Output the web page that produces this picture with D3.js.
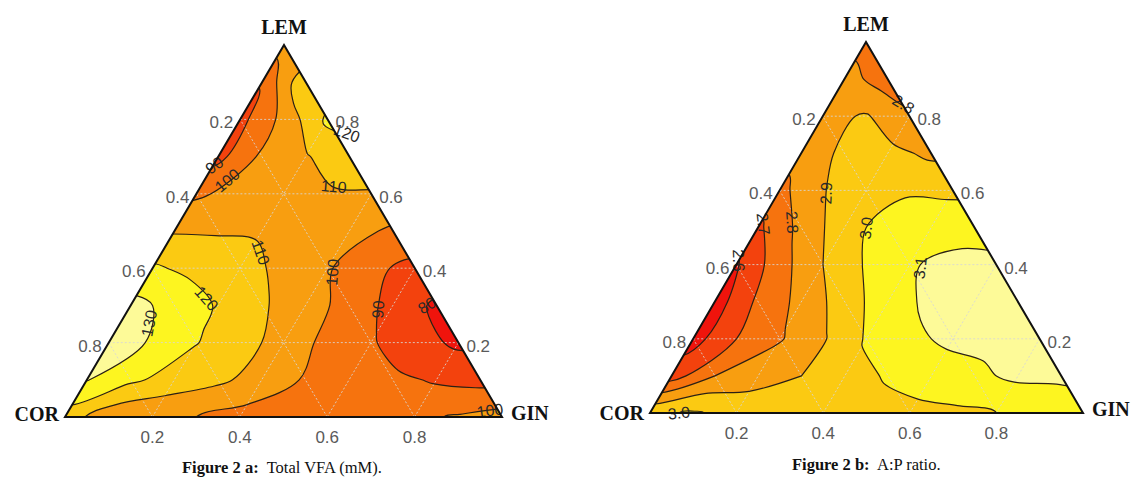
<!DOCTYPE html>
<html>
<head>
<meta charset="utf-8">
<script src="https://cdn.jsdelivr.net/npm/d3@7"></script>
<style>
    body { margin: 0; background: #fff; }
    svg { display: block; }
</style>
</head>
<body>
<svg id="chart" width="1136" height="482"></svg>
<script>
// values on a ternary lattice:
// one row per LEM fraction (0, 0.1 ... 1), columns are GIN fraction (0 ... 1 - LEM)
const vfaRows = [
    [115, 104, 102, 100, 97, 95, 94, 95, 98, 101, 104],
    [130.5, 122, 116, 112, 106, 99, 95, 92, 89, 87],
    [135, 129, 120.5, 113, 107, 97, 91, 84, 78],
    [133, 127, 119, 111, 105, 96, 87, 78],
    [121.5, 117, 113, 108, 101, 93, 86],
    [109, 109, 109, 107, 104, 98],
    [98, 104, 106, 108, 109],
    [87, 102, 109, 118],
    [87, 103, 122],
    [90.5, 119],
    [105]
];
const vfaLevels = [80, 90, 100, 110, 120, 130];
// contour labels: [level, GIN fraction, LEM fraction]
const vfaLabels = [
    [90, 0.01, 0.67], [100, 0.06, 0.63], [120, 0.27, 0.725], [110, 0.3, 0.63],
    [110, 0.24, 0.45], [120, 0.17, 0.33], [130, 0.075, 0.25], [100, 0.41, 0.39],
    [90, 0.56, 0.29], [80, 0.67, 0.3], [100, 0.95, 0.04]
];

const apRows = [
    [2.98, 3.01, 2.97, 2.96, 2.96, 2.96, 2.97, 2.98, 3.0, 3.03, 3.07],
    [2.65, 2.80, 2.85, 2.90, 2.96, 3.01, 3.05, 3.08, 3.12, 3.12],
    [2.56, 2.70, 2.79, 2.89, 3.01, 3.08, 3.12, 3.13, 3.13],
    [2.55, 2.72, 2.83, 2.95, 3.06, 3.12, 3.14, 3.14],
    [2.59, 2.76, 2.90, 3.01, 3.09, 3.13, 3.12],
    [2.68, 2.83, 2.96, 3.04, 3.06, 3.06],
    [2.77, 2.895, 2.96, 2.99, 2.98],
    [2.84, 2.92, 2.93, 2.88],
    [2.87, 2.91, 2.81],
    [2.84, 2.75],
    [2.76]
];
const apLevels = [2.6, 2.7, 2.8, 2.9, 3.0, 3.1];
const apLabels = [
    [2.8, 0.17, 0.817], [2.9, 0.097, 0.593], [2.8, 0.083, 0.515], [2.7, 0.022, 0.512],
    [2.6, 0.01, 0.42], [3.0, 0.235, 0.5], [3.1, 0.4, 0.394], [3.0, 0.01, 0.027]
];

const tickValues = [0.2, 0.4, 0.6, 0.8];
const heatColors = ["#f0140c", "#f3420d", "#f6730e", "#f89e10", "#fbca12", "#fdf520", "#fdfa98"];

const svg = d3.select("#chart");

function drawTernary(cfg) {
    const { cor, gin, lem, rows, levels, labels, fmt } = cfg;

    const xg = d3.scaleLinear().domain([0, 1]).range([0, gin[0] - cor[0]]);
    const xl = d3.scaleLinear().domain([0, 1]).range([0, lem[0] - cor[0]]);
    const yl = d3.scaleLinear().domain([0, 1]).range([cor[1], lem[1]]);
    const toPx = (g, l) => [cor[0] + xg(g) + xl(l), yl(l)];

    // grid index -> composition (one padding cell on every side)
    const n = 13;
    const gridToFrac = d3.scaleLinear().domain([1.5, 11.5]).range([0, 1]);
    const values = new Array(n * n);
    for (let y = 0; y < n; y++) {
        for (let x = 0; x < n; x++) {
            const j = Math.min(Math.max(y - 1, 0), 10);
            const i = Math.min(Math.max(x - 1, 0), 10 - j);
            values[x + y * n] = rows[j][i];
        }
    }
    const contours = d3.contours().size([n, n]).thresholds(levels)(values);
    const ptPx = (p) => toPx(gridToFrac(p[0]), gridToFrac(p[1]));

    const line = d3.line().curve(d3.curveCatmullRomClosed.alpha(0.5));
    const mpPath = (mp) =>
        mp.coordinates
            .map((poly) => poly.map((ring) => line(ring.slice(0, -1).map(ptPx))).join(""))
            .join("");

    const id = "clip-" + cfg.key;
    const tri = [toPx(0, 0), toPx(1, 0), toPx(0, 1)];
    svg.append("clipPath").attr("id", id)
        .append("polygon").attr("points", tri.map((p) => p.join(",")).join(" "));

    const g = svg.append("g").attr("clip-path", `url(#${id})`);

    g.append("polygon")
        .attr("points", tri.map((p) => p.join(",")).join(" "))
        .attr("fill", heatColors[0]);

    g.selectAll("path.fill")
        .data(contours)
        .join("path")
        .attr("class", "fill")
        .attr("d", mpPath)
        .attr("fill", (d, k) => heatColors[k + 1])
        .attr("fill-rule", "evenodd");

    // dotted ternary grid
    const gridLines = [];
    tickValues.forEach((v) => {
        gridLines.push([toPx(v, 0), toPx(v, 1 - v)]);
        gridLines.push([toPx(0, v), toPx(1 - v, v)]);
        gridLines.push([toPx(1 - v, 0), toPx(0, 1 - v)]);
    });
    g.selectAll("line.grid")
        .data(gridLines)
        .join("line")
        .attr("class", "grid")
        .attr("x1", (d) => d[0][0]).attr("y1", (d) => d[0][1])
        .attr("x2", (d) => d[1][0]).attr("y2", (d) => d[1][1])
        .attr("stroke", "rgba(215,215,215,0.85)")
        .attr("stroke-width", 1)
        .attr("stroke-dasharray", "2,2");

    g.selectAll("path.iso")
        .data(contours)
        .join("path")
        .attr("class", "iso")
        .attr("d", mpPath)
        .attr("fill", "none")
        .attr("stroke", "#2b2015")
        .attr("stroke-width", 1.2);

    // contour labels, snapped onto their line
    const inside = (p) => {
        const l = yl.invert(p[1]);
        const gg = xg.invert(p[0] - cor[0] - xl(l));
        return gg > -0.02 && l > -0.02 && gg + l < 1.02;
    };
    labels.forEach(([level, lg, ll]) => {
        const mp = contours[levels.indexOf(level)];
        const target = toPx(lg, ll);
        let best = null, bd = Infinity;
        mp.coordinates.forEach((poly) => poly.forEach((ring) => {
            const pts = ring.map(ptPx);
            for (let k = 0; k < pts.length - 1; k++) {
                const a = pts[k], b = pts[k + 1];
                const dx = b[0] - a[0], dy = b[1] - a[1], len2 = dx * dx + dy * dy;
                if (!len2 || !inside([(a[0] + b[0]) / 2, (a[1] + b[1]) / 2])) continue;
                let t = ((target[0] - a[0]) * dx + (target[1] - a[1]) * dy) / len2;
                t = Math.max(0, Math.min(1, t));
                const p = [a[0] + t * dx, a[1] + t * dy];
                const dd = Math.hypot(p[0] - target[0], p[1] - target[1]);
                if (dd < bd) { bd = dd; best = { p, ang: Math.atan2(dy, dx) * 180 / Math.PI }; }
            }
        }));
        if (!best) return;
        let ang = best.ang;
        if (ang > 90) ang -= 180;
        if (ang <= -90) ang += 180;
        svg.append("text")
            .attr("transform", `translate(${best.p[0]},${best.p[1]}) rotate(${ang})`)
            .attr("text-anchor", "middle")
            .attr("dy", "0.35em")
            .attr("font-family", "Liberation Sans, Arial, sans-serif")
            .attr("font-size", 16)
            .attr("fill", "#2a2a2a")
            .text(fmt(level));
    });

    // border
    svg.append("polygon")
        .attr("points", tri.map((p) => p.join(",")).join(" "))
        .attr("fill", "none")
        .attr("stroke", "#111")
        .attr("stroke-width", 2)
        .attr("stroke-linejoin", "miter");

    // tick labels
    const tickFont = (sel) => sel
        .attr("font-family", "Liberation Sans, Arial, sans-serif")
        .attr("font-size", 17)
        .attr("fill", "#5a5a5a");
    svg.selectAll(null).data(tickValues).join("text")
        .attr("x", (v) => toPx(v, 0)[0])
        .attr("y", (v) => toPx(v, 0)[1] + 26)
        .attr("text-anchor", "middle")
        .text(d3.format(".1f"))
        .call(tickFont);
    svg.selectAll(null).data(tickValues).join("text")
        .attr("x", (v) => toPx(0, 1 - v)[0] - 7)
        .attr("y", (v) => toPx(0, 1 - v)[1] + 9)
        .attr("text-anchor", "end")
        .text(d3.format(".1f"))
        .call(tickFont);
    svg.selectAll(null).data(tickValues).join("text")
        .attr("x", (v) => toPx(1 - v, v)[0] + 8)
        .attr("y", (v) => toPx(1 - v, v)[1] + 9)
        .attr("text-anchor", "start")
        .text(d3.format(".1f"))
        .call(tickFont);

    // vertex names
    const vFont = (sel) => sel
        .attr("font-family", "Liberation Serif, Times New Roman, serif")
        .attr("font-weight", "bold")
        .attr("font-size", 20)
        .attr("fill", "#111");
    svg.append("text").attr("x", cor[0] - 6).attr("y", cor[1] + 3 + cfg.corDy)
        .attr("text-anchor", "end").text("COR").call(vFont);
    svg.append("text").attr("x", gin[0] + 9).attr("y", gin[1] + 3)
        .attr("text-anchor", "start").text("GIN").call(vFont);
    svg.append("text").attr("x", lem[0]).attr("y", lem[1] - 11)
        .attr("text-anchor", "middle").text("LEM").call(vFont);

    // caption
    const cap = svg.append("text")
        .attr("x", cfg.capX).attr("y", cfg.capY)
        .attr("font-family", "Liberation Serif, Times New Roman, serif")
        .attr("font-size", 16.5)
        .attr("fill", "#111")
        .attr("xml:space", "preserve");
    cap.append("tspan").attr("font-weight", "bold").text(cfg.capBold);
    cap.append("tspan").text(cfg.capText);
}

drawTernary({
    key: "a", cor: [65, 417], gin: [502, 417], lem: [284, 45],
    rows: vfaRows, levels: vfaLevels, labels: vfaLabels, fmt: d3.format("d"),
    corDy: 1, capX: 182, capY: 473, capBold: "Figure 2 a:", capText: "  Total VFA (mM)."
});
drawTernary({
    key: "b", cor: [650, 413], gin: [1083, 413], lem: [866, 42],
    rows: apRows, levels: apLevels, labels: apLabels, fmt: d3.format(".1f"),
    corDy: 4, capX: 792, capY: 470, capBold: "Figure 2 b:", capText: "  A:P ratio."
});
</script>
</body>
</html>
